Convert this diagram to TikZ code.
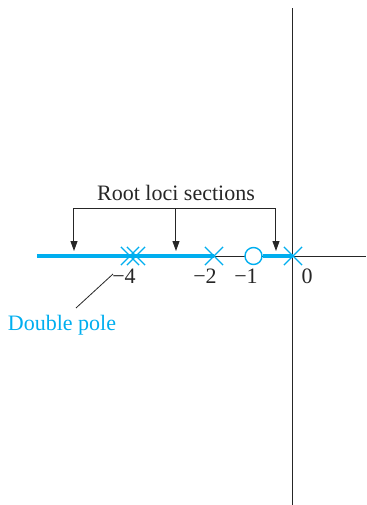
\documentclass[tikz,border=0pt]{standalone}
\usepackage{fontspec}
\setmainfont{Liberation Serif}
\definecolor{LocusBlue}{HTML}{00AEEF}
\usetikzlibrary{positioning, arrows.meta, shapes.misc, calc}

\begin{document}
\begin{tikzpicture}[
  x=0.5pt, y=0.5pt,
  axis/.style={line width=0.5pt, black!85},
  locus/.style={line width=1.6pt, LocusBlue},
  pole/.style={cross out, draw=LocusBlue, line width=0.6pt, minimum size=8.5pt, inner sep=0pt},
  zero/.style={circle, draw=LocusBlue, fill=white, line width=0.7pt, minimum size=8.5pt, inner sep=0pt},
  lbl/.style={font=\fontsize{11}{13}\selectfont, text=black!85, inner sep=1pt},
  arr/.style={-{Triangle[length=5pt, width=3.5pt]}, line width=0.5pt, black!85},
]
  \useasboundingbox (0,0) rectangle (366,505);

  % axes
  \coordinate (origin) at (293,249);
  \coordinate (left) at (37,249);
  \coordinate (right) at (366,249);
  \coordinate (top) at (293,497);
  \coordinate (bottom) at (293,0);
  \draw[axis] (left) -- (right);
  \draw[axis] (bottom) -- (top);

  % poles and zero
  \node[zero] (z1) at (253.5,249) {};
  \coordinate (p2) at (214,249);
  \coordinate (p4) at (133,249);

  % loci on the real axis
  \draw[locus] (left) -- (p2);
  \draw[locus] (z1.east) -- (origin);

  \node[pole] (p0) at (origin) {};
  \node[pole] (p2x) at (p2) {};
  \node[pole] (p4a) at ($(p4)+(-3,0)$) {};
  \node[pole] (p4b) at ($(p4)+(3,0)$) {};

  % tick labels
  \node[lbl] (l4) at (124,229) {−4};
  \node[lbl] (l2) at (205,229) {−2};
  \node[lbl] (l1) at (246,229) {−1};
  \node[lbl] (l0) at (307,229) {0};

  % sections bracket
  \node[lbl] (title) at (176,312) {Root loci sections};
  \coordinate (bl) at (74,297);
  \coordinate (bm) at (176,297);
  \coordinate (br) at (276,297);
  \coordinate (el) at (74,254);
  \coordinate (em) at (176,254);
  \coordinate (er) at (276,254);
  \draw[axis] (bl) -- (br);
  \draw[arr] (bl) -- (el);
  \draw[arr] (bm) -- (em);
  \draw[arr] (br) -- (er);

  % double pole label
  \node[lbl, text=LocusBlue] (dp) at (62,180) {Double pole};
  \coordinate (lstart) at (76,197);
  \coordinate (lend) at (113,231);
  \draw[axis, line width=0.4pt] (lstart) -- (lend);
\end{tikzpicture}
\end{document}
